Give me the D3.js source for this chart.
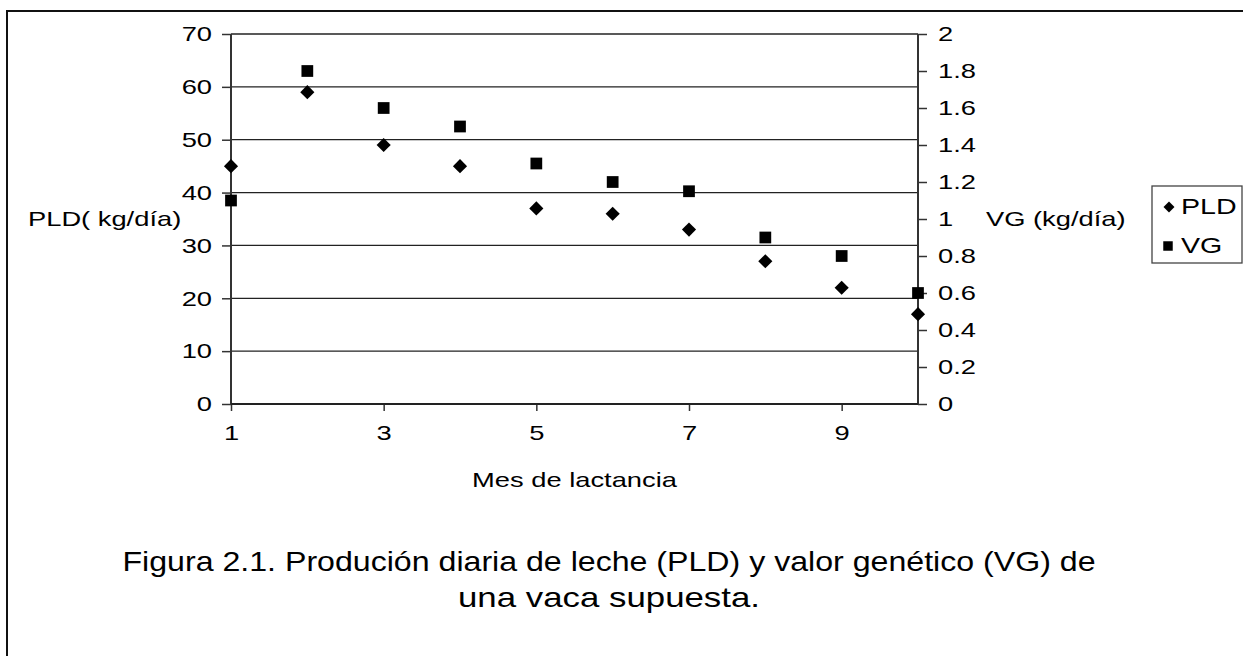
<!DOCTYPE html>
<html>
<head>
<meta charset="utf-8">
<script src="https://cdn.jsdelivr.net/npm/d3@7"></script>
<style>
  body { margin: 0; background: #fff; }
  svg { display: block; font-family: "Liberation Sans", Arial, sans-serif; }
</style>
</head>
<body>
<svg width="1243" height="663"></svg>
<script>
// data
const months = [1, 2, 3, 4, 5, 6, 7, 8, 9, 10];
const pld = [45, 59, 49, 45, 37, 36, 33, 27, 22, 17];
const vg = [1.1, 1.8, 1.6, 1.5, 1.3, 1.2, 1.15, 0.9, 0.8, 0.6];

const xTicks = [1, 3, 5, 7, 9];
const leftTicks = [0, 10, 20, 30, 40, 50, 60, 70];
const rightTicks = [0, 0.2, 0.4, 0.6, 0.8, 1, 1.2, 1.4, 1.6, 1.8, 2];
const rightLabels = ["0", "0.2", "0.4", "0.6", "0.8", "1", "1.2", "1.4", "1.6", "1.8", "2"];

const seriesNames = ["PLD", "VG"];
const captionLines = [
    "Figura 2.1. Produción diaria de leche (PLD) y valor genético (VG) de",
    "una vaca supuesta."
];

const svg = d3.select("svg");
const plotL = 231, plotR = 918, plotT = 34, plotB = 404;
const stretch = 1.3; // glyphs in the original are wider than tall

var x = d3.scaleLinear().domain([1, 10]).range([plotL, plotR]);
var yL = d3.scaleLinear().domain([0, 70]).range([plotB, plotT]);
var yR = d3.scaleLinear().domain([0, 2]).range([plotB, plotT]);

const widen = sel => sel.each(function () {
    const w = this.getComputedTextLength();
    d3.select(this).attr("textLength", w * stretch).attr("lengthAdjust", "spacingAndGlyphs");
});

// outer frame (open at right/bottom, as in the scan)
svg.append("path")
    .attr("d", "M7,656V11H1250")
    .attr("fill", "none")
    .attr("stroke", "#111")
    .attr("stroke-width", 2);

// gridlines
svg.append("g")
    .selectAll("line")
    .data(leftTicks.filter(d => d > 0))
    .enter().append("line")
    .attr("x1", plotL).attr("x2", plotR)
    .attr("y1", d => yL(d)).attr("y2", d => yL(d))
    .attr("stroke", "#222")
    .attr("stroke-width", 1.3);

var yAxisL = d3.axisLeft(yL).tickValues(leftTicks).tickSize(9).tickPadding(10);
var yAxisR = d3.axisRight(yR).tickValues(rightTicks).tickSize(9).tickPadding(11)
    .tickFormat((d, i) => rightLabels[i]);
var xAxis = d3.axisBottom(x).tickValues(xTicks).tickSize(7).tickPadding(14);

const styleAxis = g => {
    g.select(".domain").remove();
    g.selectAll(".tick line").attr("stroke", "#333").attr("stroke-width", 1.5);
    g.selectAll("text").attr("fill", "#000").style("font-size", "21px")
        .style("font-family", "'Liberation Sans', Arial, sans-serif").call(widen);
};

svg.append("g").attr("transform", "translate(" + plotL + ",0)").call(yAxisL).call(styleAxis);
svg.append("g").attr("transform", "translate(" + plotR + ",0)").call(yAxisR).call(styleAxis);
svg.append("g").attr("transform", "translate(0," + plotB + ")").call(xAxis).call(styleAxis);

// axis lines
svg.append("line").attr("x1", plotL).attr("x2", plotL).attr("y1", plotT).attr("y2", plotB)
    .attr("stroke", "#333").attr("stroke-width", 2);
svg.append("line").attr("x1", plotR).attr("x2", plotR).attr("y1", plotT).attr("y2", plotB)
    .attr("stroke", "#333").attr("stroke-width", 2);
svg.append("line").attr("x1", plotL).attr("x2", plotR).attr("y1", plotB).attr("y2", plotB)
    .attr("stroke", "#222").attr("stroke-width", 2);

// axis titles
const midY = (plotT + plotB) / 2;
svg.append("text").attr("x", 28).attr("y", midY + 7)
    .style("font-size", "21px").text("PLD( kg/día)").call(widen);
svg.append("text").attr("x", 986).attr("y", midY + 7)
    .style("font-size", "21px").text("VG (kg/día)").call(widen);
svg.append("text").attr("x", (plotL + plotR) / 2).attr("y", 487)
    .attr("text-anchor", "middle")
    .style("font-size", "21px").text("Mes de lactancia").call(widen);

// markers
const diamond = d3.symbol().type(d3.symbolSquare).size(100);
const square = d3.symbol().type(d3.symbolSquare).size(138);

svg.append("g").selectAll("path")
    .data(months.map((m, i) => [m, pld[i]]))
    .enter().append("path")
    .attr("d", diamond)
    .attr("transform", d => "translate(" + x(d[0]) + "," + yL(d[1]) + ") rotate(45)")
    .attr("fill", "#000");

svg.append("g").selectAll("path")
    .data(months.map((m, i) => [m, vg[i]]))
    .enter().append("path")
    .attr("d", square)
    .attr("transform", d => "translate(" + x(d[0]) + "," + yR(d[1]) + ")")
    .attr("fill", "#000");

// legend
const lg = svg.append("g").attr("transform", "translate(1152,186)");
lg.append("rect").attr("width", 90).attr("height", 77)
    .attr("fill", "#fff").attr("stroke", "#444").attr("stroke-width", 1.3);
lg.append("path").attr("d", d3.symbol().type(d3.symbolSquare).size(60))
    .attr("transform", "translate(17,21) rotate(45)");
lg.append("path").attr("d", d3.symbol().type(d3.symbolSquare).size(90))
    .attr("transform", "translate(16,60)");
lg.selectAll("text.lab")
    .data(seriesNames)
    .enter().append("text")
    .attr("class", "lab")
    .attr("x", 29)
    .attr("y", (d, i) => 28 + i * 39)
    .style("font-size", "22px")
    .text(d => d)
    .call(widen);

// caption
svg.append("g").selectAll("text")
    .data(captionLines)
    .enter().append("text")
    .attr("x", 609)
    .attr("y", (d, i) => 571 + i * 36)
    .attr("text-anchor", "middle")
    .attr("textLength", (d, i) => i === 0 ? 973 : 302)
    .attr("lengthAdjust", "spacingAndGlyphs")
    .style("font-size", "28px")
    .text(d => d);
</script>
</body>
</html>
